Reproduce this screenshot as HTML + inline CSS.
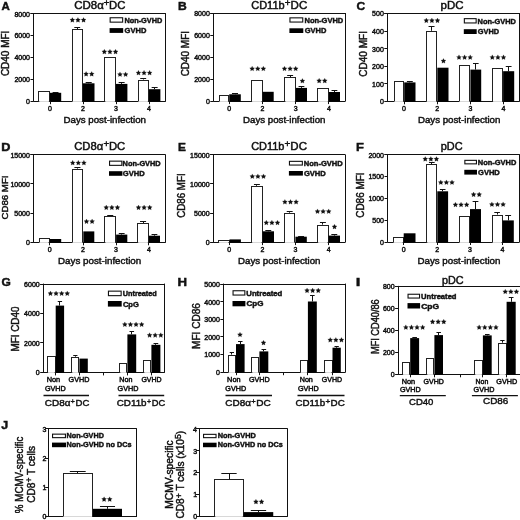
<!DOCTYPE html>
<html><head><meta charset="utf-8"><title>Figure</title>
<style>
html,body{margin:0;padding:0;background:#fff;}
body{width:520px;height:520px;overflow:hidden;}
svg{display:block;will-change:transform;}
text{font-family:"Liberation Sans", sans-serif;fill:#111;stroke:#111;stroke-width:0.45px;}
</style></head>
<body>
<svg width="520" height="520" viewBox="0 0 520 520">
<rect x="0" y="0" width="520" height="520" fill="#fff"/>
<line x1="33.5" y1="13.1" x2="33.5" y2="101.7" stroke="#111" stroke-width="1"/>
<line x1="30.5" y1="13.5" x2="165.6" y2="13.5" stroke="#111" stroke-width="1"/>
<line x1="165.5" y1="13.1" x2="165.5" y2="101.7" stroke="#111" stroke-width="1"/>
<line x1="33.5" y1="101.5" x2="165.6" y2="101.5" stroke="#111" stroke-width="1"/>
<line x1="30.5" y1="101.5" x2="33.5" y2="101.5" stroke="#111" stroke-width="1"/>
<text x="26.09" y="104.1" font-size="7">0</text>
<line x1="30.5" y1="79.5" x2="33.5" y2="79.5" stroke="#111" stroke-width="1"/>
<text x="14.4" y="82.2" font-size="7">2000</text>
<line x1="30.5" y1="57.5" x2="33.5" y2="57.5" stroke="#111" stroke-width="1"/>
<text x="14.4" y="60.3" font-size="7">4000</text>
<line x1="30.5" y1="35.5" x2="33.5" y2="35.5" stroke="#111" stroke-width="1"/>
<text x="14.4" y="38.4" font-size="7">6000</text>
<line x1="30.5" y1="13.5" x2="33.5" y2="13.5" stroke="#111" stroke-width="1"/>
<text x="14.4" y="16.5" font-size="7">8000</text>
<rect x="38.5" y="91.5" width="11" height="10" fill="#fff" stroke="#222" stroke-width="1"/>
<line x1="39.3" y1="101.5" x2="48.9" y2="101.5" stroke="#d8d8d8" stroke-width="1"/>
<rect x="49.9" y="92.8" width="11.3" height="8.9" fill="#000"/>
<line x1="55.5" y1="92" x2="55.5" y2="92.8" stroke="#111" stroke-width="1"/>
<line x1="52.61" y1="92.5" x2="58.49" y2="92.5" stroke="#111" stroke-width="1"/>
<rect x="72.5" y="29.5" width="10" height="72" fill="#fff" stroke="#222" stroke-width="1"/>
<line x1="72.6" y1="101.5" x2="81.9" y2="101.5" stroke="#d8d8d8" stroke-width="1"/>
<line x1="77.5" y1="27.4" x2="77.5" y2="29.1" stroke="#111" stroke-width="1"/>
<line x1="74.31" y1="27.5" x2="80.19" y2="27.5" stroke="#111" stroke-width="1"/>
<rect x="82.9" y="83.3" width="11.6" height="18.4" fill="#000"/>
<line x1="88.5" y1="82.2" x2="88.5" y2="83.3" stroke="#111" stroke-width="1"/>
<line x1="85.68" y1="82.5" x2="91.72" y2="82.5" stroke="#111" stroke-width="1"/>
<rect x="104.5" y="57.5" width="11" height="44" fill="#fff" stroke="#222" stroke-width="1"/>
<line x1="105.3" y1="101.5" x2="114.9" y2="101.5" stroke="#d8d8d8" stroke-width="1"/>
<rect x="115.9" y="83.9" width="11.5" height="17.8" fill="#000"/>
<line x1="121.5" y1="82" x2="121.5" y2="83.9" stroke="#111" stroke-width="1"/>
<line x1="118.66" y1="82.5" x2="124.64" y2="82.5" stroke="#111" stroke-width="1"/>
<rect x="138.5" y="80.5" width="10" height="21" fill="#fff" stroke="#222" stroke-width="1"/>
<line x1="138.5" y1="101.5" x2="147.9" y2="101.5" stroke="#d8d8d8" stroke-width="1"/>
<line x1="143.5" y1="78.8" x2="143.5" y2="79.5" stroke="#111" stroke-width="1"/>
<line x1="140.24" y1="78.5" x2="146.16" y2="78.5" stroke="#111" stroke-width="1"/>
<rect x="148.9" y="89.2" width="11.5" height="12.5" fill="#000"/>
<line x1="154.5" y1="87.2" x2="154.5" y2="89.2" stroke="#111" stroke-width="1"/>
<line x1="151.66" y1="87.5" x2="157.64" y2="87.5" stroke="#111" stroke-width="1"/>
<polygon points="72.35,17.55 73.11,19.1 74.82,19.34 73.59,20.55 73.88,22.25 72.35,21.45 70.82,22.25 71.11,20.55 69.88,19.34 71.59,19.1" fill="#111" stroke="#111" stroke-width="0.2" stroke-linejoin="round"/>
<polygon points="77.95,17.55 78.71,19.1 80.42,19.34 79.19,20.55 79.48,22.25 77.95,21.45 76.42,22.25 76.71,20.55 75.48,19.34 77.19,19.1" fill="#111" stroke="#111" stroke-width="0.2" stroke-linejoin="round"/>
<polygon points="83.55,17.55 84.31,19.1 86.02,19.34 84.79,20.55 85.08,22.25 83.55,21.45 82.02,22.25 82.31,20.55 81.08,19.34 82.79,19.1" fill="#111" stroke="#111" stroke-width="0.2" stroke-linejoin="round"/>
<polygon points="86.1,71.5 86.86,73.05 88.57,73.29 87.34,74.5 87.63,76.2 86.1,75.4 84.57,76.2 84.86,74.5 83.63,73.29 85.34,73.05" fill="#111" stroke="#111" stroke-width="0.2" stroke-linejoin="round"/>
<polygon points="91.7,71.5 92.46,73.05 94.17,73.29 92.94,74.5 93.23,76.2 91.7,75.4 90.17,76.2 90.46,74.5 89.23,73.29 90.94,73.05" fill="#111" stroke="#111" stroke-width="0.2" stroke-linejoin="round"/>
<polygon points="104.35,49.3 105.11,50.85 106.82,51.09 105.59,52.3 105.88,54 104.35,53.2 102.82,54 103.11,52.3 101.88,51.09 103.59,50.85" fill="#111" stroke="#111" stroke-width="0.2" stroke-linejoin="round"/>
<polygon points="109.95,49.3 110.71,50.85 112.42,51.09 111.19,52.3 111.48,54 109.95,53.2 108.42,54 108.71,52.3 107.48,51.09 109.19,50.85" fill="#111" stroke="#111" stroke-width="0.2" stroke-linejoin="round"/>
<polygon points="115.55,49.3 116.31,50.85 118.02,51.09 116.79,52.3 117.08,54 115.55,53.2 114.02,54 114.31,52.3 113.08,51.09 114.79,50.85" fill="#111" stroke="#111" stroke-width="0.2" stroke-linejoin="round"/>
<polygon points="120,71.9 120.76,73.45 122.47,73.69 121.24,74.9 121.53,76.6 120,75.8 118.47,76.6 118.76,74.9 117.53,73.69 119.24,73.45" fill="#111" stroke="#111" stroke-width="0.2" stroke-linejoin="round"/>
<polygon points="125.6,71.9 126.36,73.45 128.07,73.69 126.84,74.9 127.13,76.6 125.6,75.8 124.07,76.6 124.36,74.9 123.13,73.69 124.84,73.45" fill="#111" stroke="#111" stroke-width="0.2" stroke-linejoin="round"/>
<polygon points="138.45,70.35 139.21,71.9 140.92,72.14 139.69,73.35 139.98,75.05 138.45,74.25 136.92,75.05 137.21,73.35 135.98,72.14 137.69,71.9" fill="#111" stroke="#111" stroke-width="0.2" stroke-linejoin="round"/>
<polygon points="144.05,70.35 144.81,71.9 146.52,72.14 145.29,73.35 145.58,75.05 144.05,74.25 142.52,75.05 142.81,73.35 141.58,72.14 143.29,71.9" fill="#111" stroke="#111" stroke-width="0.2" stroke-linejoin="round"/>
<polygon points="149.65,70.35 150.41,71.9 152.12,72.14 150.89,73.35 151.18,75.05 149.65,74.25 148.12,75.05 148.41,73.35 147.18,72.14 148.89,71.9" fill="#111" stroke="#111" stroke-width="0.2" stroke-linejoin="round"/>
<line x1="50.5" y1="101.2" x2="50.5" y2="104.2" stroke="#111" stroke-width="1"/>
<text x="48.06" y="111" font-size="7">0</text>
<line x1="83.5" y1="101.2" x2="83.5" y2="104.2" stroke="#111" stroke-width="1"/>
<text x="81.06" y="111" font-size="7">2</text>
<line x1="116.5" y1="101.2" x2="116.5" y2="104.2" stroke="#111" stroke-width="1"/>
<text x="114.08" y="111" font-size="7">3</text>
<line x1="149.5" y1="101.2" x2="149.5" y2="104.2" stroke="#111" stroke-width="1"/>
<text x="147.07" y="111" font-size="7">4</text>
<text x="63.52" y="123" font-size="9.5" textLength="82.5" lengthAdjust="spacingAndGlyphs">Days post-infection</text>
<text x="1.61" y="9.5" font-size="11" font-weight="bold" textLength="8.3" lengthAdjust="spacingAndGlyphs">A</text>
<text x="74.23" y="8.7" font-size="10.3" textLength="29.6" lengthAdjust="spacingAndGlyphs">CD8α</text>
<text x="103.83" y="5.5" font-size="9.27" textLength="5.54" lengthAdjust="spacingAndGlyphs">+</text>
<text x="109" y="8.7" font-size="10.3" textLength="16.3" lengthAdjust="spacingAndGlyphs">DC</text>
<text x="8.6" y="76.1" font-size="10" textLength="45.41" lengthAdjust="spacingAndGlyphs" transform="rotate(-90 8.6 76.1)">CD40 MFI</text>
<rect x="110.15" y="17.75" width="12.5" height="4.4" fill="#fff" stroke="#111" stroke-width="1.1"/>
<text x="124.42" y="22.8" font-size="7.6" font-weight="bold" textLength="37.88" lengthAdjust="spacingAndGlyphs">Non-GVHD</text>
<rect x="109.6" y="28.1" width="13.6" height="4.8" fill="#000"/>
<text x="124.6" y="33" font-size="7.6" font-weight="bold" textLength="21.73" lengthAdjust="spacingAndGlyphs">GVHD</text>
<line x1="213.5" y1="13" x2="213.5" y2="101.6" stroke="#111" stroke-width="1"/>
<line x1="210.3" y1="13.5" x2="345" y2="13.5" stroke="#111" stroke-width="1"/>
<line x1="345.5" y1="13" x2="345.5" y2="101.6" stroke="#111" stroke-width="1"/>
<line x1="213.3" y1="101.5" x2="345" y2="101.5" stroke="#111" stroke-width="1"/>
<line x1="210.3" y1="101.5" x2="213.3" y2="101.5" stroke="#111" stroke-width="1"/>
<text x="205.9" y="104" font-size="7">0</text>
<line x1="210.3" y1="79.5" x2="213.3" y2="79.5" stroke="#111" stroke-width="1"/>
<text x="194.21" y="82.1" font-size="7">2000</text>
<line x1="210.3" y1="57.5" x2="213.3" y2="57.5" stroke="#111" stroke-width="1"/>
<text x="194.21" y="60.2" font-size="7">4000</text>
<line x1="210.3" y1="35.5" x2="213.3" y2="35.5" stroke="#111" stroke-width="1"/>
<text x="194.21" y="38.3" font-size="7">6000</text>
<line x1="210.3" y1="13.5" x2="213.3" y2="13.5" stroke="#111" stroke-width="1"/>
<text x="194.21" y="16.4" font-size="7">8000</text>
<rect x="219.5" y="95.5" width="9" height="6" fill="#fff" stroke="#222" stroke-width="1"/>
<line x1="219.5" y1="101.5" x2="228.2" y2="101.5" stroke="#d8d8d8" stroke-width="1"/>
<rect x="229.2" y="94.3" width="11.6" height="7.3" fill="#000"/>
<line x1="235.5" y1="93.3" x2="235.5" y2="94.3" stroke="#111" stroke-width="1"/>
<line x1="231.98" y1="93.5" x2="238.02" y2="93.5" stroke="#111" stroke-width="1"/>
<rect x="251.5" y="80.5" width="11" height="21" fill="#fff" stroke="#222" stroke-width="1"/>
<line x1="252.1" y1="101.5" x2="261.6" y2="101.5" stroke="#d8d8d8" stroke-width="1"/>
<rect x="262.6" y="91.8" width="11.1" height="9.8" fill="#000"/>
<rect x="284.5" y="77.5" width="11" height="24" fill="#fff" stroke="#222" stroke-width="1"/>
<line x1="285.4" y1="101.5" x2="294.9" y2="101.5" stroke="#d8d8d8" stroke-width="1"/>
<line x1="290.5" y1="75.6" x2="290.5" y2="77.2" stroke="#111" stroke-width="1"/>
<line x1="287.16" y1="75.5" x2="293.14" y2="75.5" stroke="#111" stroke-width="1"/>
<rect x="295.9" y="87.9" width="11.1" height="13.7" fill="#000"/>
<line x1="301.5" y1="86.3" x2="301.5" y2="87.9" stroke="#111" stroke-width="1"/>
<line x1="298.56" y1="86.5" x2="304.34" y2="86.5" stroke="#111" stroke-width="1"/>
<rect x="317.5" y="88.5" width="11" height="13" fill="#fff" stroke="#222" stroke-width="1"/>
<line x1="318.3" y1="101.5" x2="327.9" y2="101.5" stroke="#d8d8d8" stroke-width="1"/>
<rect x="328.9" y="92" width="11.1" height="9.6" fill="#000"/>
<line x1="334.5" y1="90.3" x2="334.5" y2="92" stroke="#111" stroke-width="1"/>
<line x1="331.56" y1="90.5" x2="337.34" y2="90.5" stroke="#111" stroke-width="1"/>
<polygon points="252.15,66.15 252.91,67.7 254.62,67.94 253.39,69.15 253.68,70.85 252.15,70.05 250.62,70.85 250.91,69.15 249.68,67.94 251.39,67.7" fill="#111" stroke="#111" stroke-width="0.2" stroke-linejoin="round"/>
<polygon points="257.75,66.15 258.51,67.7 260.22,67.94 258.99,69.15 259.28,70.85 257.75,70.05 256.22,70.85 256.51,69.15 255.28,67.94 256.99,67.7" fill="#111" stroke="#111" stroke-width="0.2" stroke-linejoin="round"/>
<polygon points="263.35,66.15 264.11,67.7 265.82,67.94 264.59,69.15 264.88,70.85 263.35,70.05 261.82,70.85 262.11,69.15 260.88,67.94 262.59,67.7" fill="#111" stroke="#111" stroke-width="0.2" stroke-linejoin="round"/>
<polygon points="284.5,66.15 285.26,67.7 286.97,67.94 285.74,69.15 286.03,70.85 284.5,70.05 282.97,70.85 283.26,69.15 282.03,67.94 283.74,67.7" fill="#111" stroke="#111" stroke-width="0.2" stroke-linejoin="round"/>
<polygon points="290.1,66.15 290.86,67.7 292.57,67.94 291.34,69.15 291.63,70.85 290.1,70.05 288.57,70.85 288.86,69.15 287.63,67.94 289.34,67.7" fill="#111" stroke="#111" stroke-width="0.2" stroke-linejoin="round"/>
<polygon points="295.7,66.15 296.46,67.7 298.17,67.94 296.94,69.15 297.23,70.85 295.7,70.05 294.17,70.85 294.46,69.15 293.23,67.94 294.94,67.7" fill="#111" stroke="#111" stroke-width="0.2" stroke-linejoin="round"/>
<polygon points="302.4,78.4 303.16,79.95 304.87,80.19 303.64,81.4 303.93,83.1 302.4,82.3 300.87,83.1 301.16,81.4 299.93,80.19 301.64,79.95" fill="#111" stroke="#111" stroke-width="0.2" stroke-linejoin="round"/>
<polygon points="319.15,78.3 319.91,79.85 321.62,80.09 320.39,81.3 320.68,83 319.15,82.2 317.62,83 317.91,81.3 316.68,80.09 318.39,79.85" fill="#111" stroke="#111" stroke-width="0.2" stroke-linejoin="round"/>
<polygon points="324.75,78.3 325.51,79.85 327.22,80.09 325.99,81.3 326.28,83 324.75,82.2 323.22,83 323.51,81.3 322.28,80.09 323.99,79.85" fill="#111" stroke="#111" stroke-width="0.2" stroke-linejoin="round"/>
<line x1="229.5" y1="101.1" x2="229.5" y2="104.1" stroke="#111" stroke-width="1"/>
<text x="227.26" y="110.9" font-size="7">0</text>
<line x1="262.5" y1="101.1" x2="262.5" y2="104.1" stroke="#111" stroke-width="1"/>
<text x="260.46" y="110.9" font-size="7">2</text>
<line x1="295.5" y1="101.1" x2="295.5" y2="104.1" stroke="#111" stroke-width="1"/>
<text x="293.68" y="110.9" font-size="7">3</text>
<line x1="328.5" y1="101.1" x2="328.5" y2="104.1" stroke="#111" stroke-width="1"/>
<text x="326.88" y="110.9" font-size="7">4</text>
<text x="243.02" y="122.7" font-size="9.5" textLength="82.4" lengthAdjust="spacingAndGlyphs">Days post-infection</text>
<text x="178.01" y="9.6" font-size="11" font-weight="bold" textLength="8.76" lengthAdjust="spacingAndGlyphs">B</text>
<text x="251.25" y="8.9" font-size="10.3" textLength="33.37" lengthAdjust="spacingAndGlyphs">CD11b</text>
<text x="284.71" y="5.7" font-size="9.27" textLength="5.78" lengthAdjust="spacingAndGlyphs">+</text>
<text x="290.58" y="8.9" font-size="10.3" textLength="16.63" lengthAdjust="spacingAndGlyphs">DC</text>
<text x="189.4" y="76.3" font-size="10" textLength="45.3" lengthAdjust="spacingAndGlyphs" transform="rotate(-90 189.4 76.3)">CD40 MFI</text>
<rect x="289.95" y="17.85" width="12.8" height="4.2" fill="#fff" stroke="#111" stroke-width="1.1"/>
<text x="304.51" y="22.7" font-size="7.6" font-weight="bold" textLength="38.8" lengthAdjust="spacingAndGlyphs">Non-GVHD</text>
<rect x="289.4" y="28.3" width="13.9" height="4.7" fill="#000"/>
<text x="304.7" y="33.1" font-size="7.6" font-weight="bold" textLength="21.63" lengthAdjust="spacingAndGlyphs">GVHD</text>
<line x1="387.5" y1="13" x2="387.5" y2="101.8" stroke="#111" stroke-width="1"/>
<line x1="384.3" y1="13.5" x2="519.2" y2="13.5" stroke="#111" stroke-width="1"/>
<line x1="519.5" y1="13" x2="519.5" y2="101.8" stroke="#111" stroke-width="1"/>
<line x1="387.3" y1="101.5" x2="519.2" y2="101.5" stroke="#111" stroke-width="1"/>
<line x1="384.3" y1="101.5" x2="387.3" y2="101.5" stroke="#111" stroke-width="1"/>
<text x="379.89" y="104.2" font-size="7">0</text>
<line x1="384.3" y1="83.5" x2="387.3" y2="83.5" stroke="#111" stroke-width="1"/>
<text x="372.12" y="86.64" font-size="7">100</text>
<line x1="384.3" y1="66.5" x2="387.3" y2="66.5" stroke="#111" stroke-width="1"/>
<text x="372.12" y="69.08" font-size="7">200</text>
<line x1="384.3" y1="48.5" x2="387.3" y2="48.5" stroke="#111" stroke-width="1"/>
<text x="372.12" y="51.52" font-size="7">300</text>
<line x1="384.3" y1="31.5" x2="387.3" y2="31.5" stroke="#111" stroke-width="1"/>
<text x="372.12" y="33.96" font-size="7">400</text>
<line x1="384.3" y1="13.5" x2="387.3" y2="13.5" stroke="#111" stroke-width="1"/>
<text x="372.12" y="16.4" font-size="7">500</text>
<rect x="394.5" y="81.5" width="9" height="20" fill="#fff" stroke="#222" stroke-width="1"/>
<line x1="394.5" y1="101.5" x2="403.2" y2="101.5" stroke="#d8d8d8" stroke-width="1"/>
<rect x="404.2" y="82.4" width="11.3" height="19.4" fill="#000"/>
<line x1="409.5" y1="81.5" x2="409.5" y2="82.4" stroke="#111" stroke-width="1"/>
<line x1="406.91" y1="81.5" x2="412.79" y2="81.5" stroke="#111" stroke-width="1"/>
<rect x="426.5" y="31.5" width="10" height="70" fill="#fff" stroke="#222" stroke-width="1"/>
<line x1="426.8" y1="101.5" x2="436.3" y2="101.5" stroke="#d8d8d8" stroke-width="1"/>
<line x1="431.5" y1="26.9" x2="431.5" y2="30.8" stroke="#111" stroke-width="1"/>
<line x1="428.56" y1="26.5" x2="434.54" y2="26.5" stroke="#111" stroke-width="1"/>
<rect x="437.3" y="67.7" width="11.2" height="34.1" fill="#000"/>
<rect x="459.5" y="65.5" width="10" height="36" fill="#fff" stroke="#222" stroke-width="1"/>
<line x1="459.5" y1="101.5" x2="469.4" y2="101.5" stroke="#d8d8d8" stroke-width="1"/>
<rect x="470.4" y="69.6" width="10.8" height="32.2" fill="#000"/>
<line x1="475.5" y1="63.5" x2="475.5" y2="69.6" stroke="#111" stroke-width="1"/>
<line x1="472.99" y1="63.5" x2="478.61" y2="63.5" stroke="#111" stroke-width="1"/>
<rect x="492.5" y="68.5" width="10" height="33" fill="#fff" stroke="#222" stroke-width="1"/>
<line x1="493.1" y1="101.5" x2="502.1" y2="101.5" stroke="#d8d8d8" stroke-width="1"/>
<rect x="503.1" y="71.2" width="11.1" height="30.6" fill="#000"/>
<line x1="508.5" y1="66.7" x2="508.5" y2="71.2" stroke="#111" stroke-width="1"/>
<line x1="505.76" y1="66.5" x2="511.54" y2="66.5" stroke="#111" stroke-width="1"/>
<polygon points="426.3,18.05 427.06,19.6 428.77,19.84 427.54,21.05 427.83,22.75 426.3,21.95 424.77,22.75 425.06,21.05 423.83,19.84 425.54,19.6" fill="#111" stroke="#111" stroke-width="0.2" stroke-linejoin="round"/>
<polygon points="431.9,18.05 432.66,19.6 434.37,19.84 433.14,21.05 433.43,22.75 431.9,21.95 430.37,22.75 430.66,21.05 429.43,19.84 431.14,19.6" fill="#111" stroke="#111" stroke-width="0.2" stroke-linejoin="round"/>
<polygon points="437.5,18.05 438.26,19.6 439.97,19.84 438.74,21.05 439.03,22.75 437.5,21.95 435.97,22.75 436.26,21.05 435.03,19.84 436.74,19.6" fill="#111" stroke="#111" stroke-width="0.2" stroke-linejoin="round"/>
<polygon points="443.45,58.45 444.21,60 445.92,60.24 444.69,61.45 444.98,63.15 443.45,62.35 441.92,63.15 442.21,61.45 440.98,60.24 442.69,60" fill="#111" stroke="#111" stroke-width="0.2" stroke-linejoin="round"/>
<polygon points="459,54.85 459.76,56.4 461.47,56.64 460.24,57.85 460.53,59.55 459,58.75 457.47,59.55 457.76,57.85 456.53,56.64 458.24,56.4" fill="#111" stroke="#111" stroke-width="0.2" stroke-linejoin="round"/>
<polygon points="464.6,54.85 465.36,56.4 467.07,56.64 465.84,57.85 466.13,59.55 464.6,58.75 463.07,59.55 463.36,57.85 462.13,56.64 463.84,56.4" fill="#111" stroke="#111" stroke-width="0.2" stroke-linejoin="round"/>
<polygon points="470.2,54.85 470.96,56.4 472.67,56.64 471.44,57.85 471.73,59.55 470.2,58.75 468.67,59.55 468.96,57.85 467.73,56.64 469.44,56.4" fill="#111" stroke="#111" stroke-width="0.2" stroke-linejoin="round"/>
<polygon points="492.3,54.85 493.06,56.4 494.77,56.64 493.54,57.85 493.83,59.55 492.3,58.75 490.77,59.55 491.06,57.85 489.83,56.64 491.54,56.4" fill="#111" stroke="#111" stroke-width="0.2" stroke-linejoin="round"/>
<polygon points="497.9,54.85 498.66,56.4 500.37,56.64 499.14,57.85 499.43,59.55 497.9,58.75 496.37,59.55 496.66,57.85 495.43,56.64 497.14,56.4" fill="#111" stroke="#111" stroke-width="0.2" stroke-linejoin="round"/>
<polygon points="503.5,54.85 504.26,56.4 505.97,56.64 504.74,57.85 505.03,59.55 503.5,58.75 501.97,59.55 502.26,57.85 501.03,56.64 502.74,56.4" fill="#111" stroke="#111" stroke-width="0.2" stroke-linejoin="round"/>
<line x1="404.5" y1="101.3" x2="404.5" y2="104.3" stroke="#111" stroke-width="1"/>
<text x="402.06" y="111.1" font-size="7">0</text>
<line x1="437.5" y1="101.3" x2="437.5" y2="104.3" stroke="#111" stroke-width="1"/>
<text x="435.36" y="111.1" font-size="7">2</text>
<line x1="470.5" y1="101.3" x2="470.5" y2="104.3" stroke="#111" stroke-width="1"/>
<text x="468.47" y="111.1" font-size="7">3</text>
<line x1="503.5" y1="101.3" x2="503.5" y2="104.3" stroke="#111" stroke-width="1"/>
<text x="501.38" y="111.1" font-size="7">4</text>
<text x="417.92" y="122.7" font-size="9.5" textLength="82.5" lengthAdjust="spacingAndGlyphs">Days post-infection</text>
<text x="356.42" y="9.6" font-size="11" font-weight="bold" textLength="8.71" lengthAdjust="spacingAndGlyphs">C</text>
<text x="440.56" y="8.9" font-size="10.3" textLength="22.91" lengthAdjust="spacingAndGlyphs">pDC</text>
<text x="366.9" y="76.7" font-size="10" textLength="45.72" lengthAdjust="spacingAndGlyphs" transform="rotate(-90 366.9 76.7)">CD40 MFI</text>
<rect x="464.35" y="18.65" width="11.8" height="4.3" fill="#fff" stroke="#111" stroke-width="1.1"/>
<text x="477.62" y="23.6" font-size="7.6" font-weight="bold" textLength="38.29" lengthAdjust="spacingAndGlyphs">Non-GVHD</text>
<rect x="463.8" y="29.2" width="12.9" height="4.8" fill="#000"/>
<text x="477.8" y="34.1" font-size="7.6" font-weight="bold" textLength="21.32" lengthAdjust="spacingAndGlyphs">GVHD</text>
<line x1="33.5" y1="154.3" x2="33.5" y2="242.8" stroke="#111" stroke-width="1"/>
<line x1="30.4" y1="154.5" x2="165.3" y2="154.5" stroke="#111" stroke-width="1"/>
<line x1="165.5" y1="154.3" x2="165.5" y2="242.8" stroke="#111" stroke-width="1"/>
<line x1="33.4" y1="242.5" x2="165.3" y2="242.5" stroke="#111" stroke-width="1"/>
<line x1="30.4" y1="242.5" x2="33.4" y2="242.5" stroke="#111" stroke-width="1"/>
<text x="25.99" y="245.2" font-size="7">0</text>
<line x1="30.4" y1="213.5" x2="33.4" y2="213.5" stroke="#111" stroke-width="1"/>
<text x="14.3" y="216.03" font-size="7">5000</text>
<line x1="30.4" y1="183.5" x2="33.4" y2="183.5" stroke="#111" stroke-width="1"/>
<text x="10.42" y="186.87" font-size="7">10000</text>
<line x1="30.4" y1="154.5" x2="33.4" y2="154.5" stroke="#111" stroke-width="1"/>
<text x="10.42" y="157.7" font-size="7">15000</text>
<rect x="39.5" y="238.5" width="10" height="4" fill="#fff" stroke="#222" stroke-width="1"/>
<line x1="39.5" y1="242.5" x2="48.6" y2="242.5" stroke="#d8d8d8" stroke-width="1"/>
<rect x="49.6" y="239" width="11.6" height="3.8" fill="#000"/>
<rect x="72.5" y="169.5" width="10" height="73" fill="#fff" stroke="#222" stroke-width="1"/>
<line x1="72.6" y1="242.5" x2="82.3" y2="242.5" stroke="#d8d8d8" stroke-width="1"/>
<line x1="77.5" y1="167.6" x2="77.5" y2="168.6" stroke="#111" stroke-width="1"/>
<line x1="74.41" y1="167.5" x2="80.49" y2="167.5" stroke="#111" stroke-width="1"/>
<rect x="83.3" y="231.4" width="11" height="11.4" fill="#000"/>
<rect x="104.5" y="216.5" width="11" height="26" fill="#fff" stroke="#222" stroke-width="1"/>
<line x1="105.4" y1="242.5" x2="115.1" y2="242.5" stroke="#d8d8d8" stroke-width="1"/>
<line x1="110.5" y1="215" x2="110.5" y2="216" stroke="#111" stroke-width="1"/>
<line x1="107.21" y1="215.5" x2="113.29" y2="215.5" stroke="#111" stroke-width="1"/>
<rect x="116.1" y="234.6" width="11.2" height="8.2" fill="#000"/>
<line x1="121.5" y1="233.1" x2="121.5" y2="234.6" stroke="#111" stroke-width="1"/>
<line x1="118.79" y1="233.5" x2="124.61" y2="233.5" stroke="#111" stroke-width="1"/>
<rect x="137.5" y="223.5" width="11" height="19" fill="#fff" stroke="#222" stroke-width="1"/>
<line x1="138.2" y1="242.5" x2="147.9" y2="242.5" stroke="#d8d8d8" stroke-width="1"/>
<line x1="143.5" y1="221.5" x2="143.5" y2="223" stroke="#111" stroke-width="1"/>
<line x1="140.01" y1="221.5" x2="146.09" y2="221.5" stroke="#111" stroke-width="1"/>
<rect x="148.9" y="235.7" width="11.1" height="7.1" fill="#000"/>
<line x1="154.5" y1="234" x2="154.5" y2="235.7" stroke="#111" stroke-width="1"/>
<line x1="151.56" y1="234.5" x2="157.34" y2="234.5" stroke="#111" stroke-width="1"/>
<polygon points="72.7,160.35 73.46,161.9 75.17,162.14 73.94,163.35 74.23,165.05 72.7,164.25 71.17,165.05 71.46,163.35 70.23,162.14 71.94,161.9" fill="#111" stroke="#111" stroke-width="0.2" stroke-linejoin="round"/>
<polygon points="78.3,160.35 79.06,161.9 80.77,162.14 79.54,163.35 79.83,165.05 78.3,164.25 76.77,165.05 77.06,163.35 75.83,162.14 77.54,161.9" fill="#111" stroke="#111" stroke-width="0.2" stroke-linejoin="round"/>
<polygon points="83.9,160.35 84.66,161.9 86.37,162.14 85.14,163.35 85.43,165.05 83.9,164.25 82.37,165.05 82.66,163.35 81.43,162.14 83.14,161.9" fill="#111" stroke="#111" stroke-width="0.2" stroke-linejoin="round"/>
<polygon points="86.5,218.95 87.26,220.5 88.97,220.74 87.74,221.95 88.03,223.65 86.5,222.85 84.97,223.65 85.26,221.95 84.03,220.74 85.74,220.5" fill="#111" stroke="#111" stroke-width="0.2" stroke-linejoin="round"/>
<polygon points="92.1,218.95 92.86,220.5 94.57,220.74 93.34,221.95 93.63,223.65 92.1,222.85 90.57,223.65 90.86,221.95 89.63,220.74 91.34,220.5" fill="#111" stroke="#111" stroke-width="0.2" stroke-linejoin="round"/>
<polygon points="106.25,205.05 107.01,206.6 108.72,206.84 107.49,208.05 107.78,209.75 106.25,208.95 104.72,209.75 105.01,208.05 103.78,206.84 105.49,206.6" fill="#111" stroke="#111" stroke-width="0.2" stroke-linejoin="round"/>
<polygon points="111.85,205.05 112.61,206.6 114.32,206.84 113.09,208.05 113.38,209.75 111.85,208.95 110.32,209.75 110.61,208.05 109.38,206.84 111.09,206.6" fill="#111" stroke="#111" stroke-width="0.2" stroke-linejoin="round"/>
<polygon points="117.45,205.05 118.21,206.6 119.92,206.84 118.69,208.05 118.98,209.75 117.45,208.95 115.92,209.75 116.21,208.05 114.98,206.84 116.69,206.6" fill="#111" stroke="#111" stroke-width="0.2" stroke-linejoin="round"/>
<polygon points="138.5,205.05 139.26,206.6 140.97,206.84 139.74,208.05 140.03,209.75 138.5,208.95 136.97,209.75 137.26,208.05 136.03,206.84 137.74,206.6" fill="#111" stroke="#111" stroke-width="0.2" stroke-linejoin="round"/>
<polygon points="144.1,205.05 144.86,206.6 146.57,206.84 145.34,208.05 145.63,209.75 144.1,208.95 142.57,209.75 142.86,208.05 141.63,206.84 143.34,206.6" fill="#111" stroke="#111" stroke-width="0.2" stroke-linejoin="round"/>
<polygon points="149.7,205.05 150.46,206.6 152.17,206.84 150.94,208.05 151.23,209.75 149.7,208.95 148.17,209.75 148.46,208.05 147.23,206.84 148.94,206.6" fill="#111" stroke="#111" stroke-width="0.2" stroke-linejoin="round"/>
<line x1="49.5" y1="242.3" x2="49.5" y2="245.3" stroke="#111" stroke-width="1"/>
<text x="47.66" y="252.1" font-size="7">0</text>
<line x1="83.5" y1="242.3" x2="83.5" y2="245.3" stroke="#111" stroke-width="1"/>
<text x="81.06" y="252.1" font-size="7">2</text>
<line x1="116.5" y1="242.3" x2="116.5" y2="245.3" stroke="#111" stroke-width="1"/>
<text x="114.08" y="252.1" font-size="7">3</text>
<line x1="148.5" y1="242.3" x2="148.5" y2="245.3" stroke="#111" stroke-width="1"/>
<text x="146.88" y="252.1" font-size="7">4</text>
<text x="58.02" y="264.4" font-size="9.5" textLength="83.21" lengthAdjust="spacingAndGlyphs">Days post-infection</text>
<text x="1.38" y="150.8" font-size="11" font-weight="bold" textLength="9.16" lengthAdjust="spacingAndGlyphs">D</text>
<text x="74.24" y="149.8" font-size="10.3" textLength="28.98" lengthAdjust="spacingAndGlyphs">CD8α</text>
<text x="103.52" y="146.6" font-size="9.27" textLength="5.66" lengthAdjust="spacingAndGlyphs">+</text>
<text x="108.9" y="149.8" font-size="10.3" textLength="16.3" lengthAdjust="spacingAndGlyphs">DC</text>
<text x="7.6" y="219.48" font-size="9.6" textLength="43.96" lengthAdjust="spacingAndGlyphs" transform="rotate(-90 7.6 219.48)">CD86 MFI</text>
<rect x="109.55" y="161.15" width="12.3" height="4.2" fill="#fff" stroke="#111" stroke-width="1.1"/>
<text x="122.62" y="166" font-size="7.6" font-weight="bold" textLength="38.08" lengthAdjust="spacingAndGlyphs">Non-GVHD</text>
<rect x="109" y="171.2" width="13.4" height="4.6" fill="#000"/>
<text x="122.8" y="175.9" font-size="7.6" font-weight="bold" textLength="21.84" lengthAdjust="spacingAndGlyphs">GVHD</text>
<line x1="213.5" y1="154.4" x2="213.5" y2="242.6" stroke="#111" stroke-width="1"/>
<line x1="210.1" y1="154.5" x2="345" y2="154.5" stroke="#111" stroke-width="1"/>
<line x1="345.5" y1="154.4" x2="345.5" y2="242.6" stroke="#111" stroke-width="1"/>
<line x1="213.1" y1="242.5" x2="345" y2="242.5" stroke="#111" stroke-width="1"/>
<line x1="210.1" y1="242.5" x2="213.1" y2="242.5" stroke="#111" stroke-width="1"/>
<text x="205.69" y="245" font-size="7">0</text>
<line x1="210.1" y1="213.5" x2="213.1" y2="213.5" stroke="#111" stroke-width="1"/>
<text x="194" y="215.93" font-size="7">5000</text>
<line x1="210.1" y1="183.5" x2="213.1" y2="183.5" stroke="#111" stroke-width="1"/>
<text x="190.12" y="186.87" font-size="7">10000</text>
<line x1="210.1" y1="154.5" x2="213.1" y2="154.5" stroke="#111" stroke-width="1"/>
<text x="190.12" y="157.8" font-size="7">15000</text>
<rect x="218.5" y="240.5" width="11" height="2" fill="#fff" stroke="#222" stroke-width="1"/>
<line x1="219.1" y1="242.5" x2="228.5" y2="242.5" stroke="#d8d8d8" stroke-width="1"/>
<rect x="229.5" y="239.4" width="11.4" height="3.2" fill="#000"/>
<rect x="251.5" y="186.5" width="11" height="56" fill="#fff" stroke="#222" stroke-width="1"/>
<line x1="252.2" y1="242.5" x2="261.6" y2="242.5" stroke="#d8d8d8" stroke-width="1"/>
<line x1="256.5" y1="184.2" x2="256.5" y2="185.8" stroke="#111" stroke-width="1"/>
<line x1="253.94" y1="184.5" x2="259.86" y2="184.5" stroke="#111" stroke-width="1"/>
<rect x="262.6" y="231.3" width="11.4" height="11.3" fill="#000"/>
<line x1="268.5" y1="230.5" x2="268.5" y2="231.3" stroke="#111" stroke-width="1"/>
<line x1="265.34" y1="230.5" x2="271.26" y2="230.5" stroke="#111" stroke-width="1"/>
<rect x="284.5" y="213.5" width="10" height="29" fill="#fff" stroke="#222" stroke-width="1"/>
<line x1="285" y1="242.5" x2="294.4" y2="242.5" stroke="#d8d8d8" stroke-width="1"/>
<line x1="289.5" y1="211.5" x2="289.5" y2="212.7" stroke="#111" stroke-width="1"/>
<line x1="286.74" y1="211.5" x2="292.66" y2="211.5" stroke="#111" stroke-width="1"/>
<rect x="295.4" y="236.7" width="11.4" height="5.9" fill="#000"/>
<line x1="301.5" y1="236" x2="301.5" y2="236.7" stroke="#111" stroke-width="1"/>
<line x1="298.14" y1="236.5" x2="304.06" y2="236.5" stroke="#111" stroke-width="1"/>
<rect x="317.5" y="225.5" width="11" height="17" fill="#fff" stroke="#222" stroke-width="1"/>
<line x1="318.2" y1="242.5" x2="327.6" y2="242.5" stroke="#d8d8d8" stroke-width="1"/>
<line x1="322.5" y1="222.7" x2="322.5" y2="224.6" stroke="#111" stroke-width="1"/>
<line x1="319.94" y1="222.5" x2="325.86" y2="222.5" stroke="#111" stroke-width="1"/>
<rect x="328.6" y="235.6" width="11.4" height="7" fill="#000"/>
<line x1="334.5" y1="234.3" x2="334.5" y2="235.6" stroke="#111" stroke-width="1"/>
<line x1="331.34" y1="234.5" x2="337.26" y2="234.5" stroke="#111" stroke-width="1"/>
<polygon points="252.3,173.9 253.06,175.45 254.77,175.69 253.54,176.9 253.83,178.6 252.3,177.8 250.77,178.6 251.06,176.9 249.83,175.69 251.54,175.45" fill="#111" stroke="#111" stroke-width="0.2" stroke-linejoin="round"/>
<polygon points="257.9,173.9 258.66,175.45 260.37,175.69 259.14,176.9 259.43,178.6 257.9,177.8 256.37,178.6 256.66,176.9 255.43,175.69 257.14,175.45" fill="#111" stroke="#111" stroke-width="0.2" stroke-linejoin="round"/>
<polygon points="263.5,173.9 264.26,175.45 265.97,175.69 264.74,176.9 265.03,178.6 263.5,177.8 261.97,178.6 262.26,176.9 261.03,175.69 262.74,175.45" fill="#111" stroke="#111" stroke-width="0.2" stroke-linejoin="round"/>
<polygon points="266.3,220.2 267.06,221.75 268.77,221.99 267.54,223.2 267.83,224.9 266.3,224.1 264.77,224.9 265.06,223.2 263.83,221.99 265.54,221.75" fill="#111" stroke="#111" stroke-width="0.2" stroke-linejoin="round"/>
<polygon points="271.9,220.2 272.66,221.75 274.37,221.99 273.14,223.2 273.43,224.9 271.9,224.1 270.37,224.9 270.66,223.2 269.43,221.99 271.14,221.75" fill="#111" stroke="#111" stroke-width="0.2" stroke-linejoin="round"/>
<polygon points="277.5,220.2 278.26,221.75 279.97,221.99 278.74,223.2 279.03,224.9 277.5,224.1 275.97,224.9 276.26,223.2 275.03,221.99 276.74,221.75" fill="#111" stroke="#111" stroke-width="0.2" stroke-linejoin="round"/>
<polygon points="284.9,199.45 285.66,201 287.37,201.24 286.14,202.45 286.43,204.15 284.9,203.35 283.37,204.15 283.66,202.45 282.43,201.24 284.14,201" fill="#111" stroke="#111" stroke-width="0.2" stroke-linejoin="round"/>
<polygon points="290.5,199.45 291.26,201 292.97,201.24 291.74,202.45 292.03,204.15 290.5,203.35 288.97,204.15 289.26,202.45 288.03,201.24 289.74,201" fill="#111" stroke="#111" stroke-width="0.2" stroke-linejoin="round"/>
<polygon points="296.1,199.45 296.86,201 298.57,201.24 297.34,202.45 297.63,204.15 296.1,203.35 294.57,204.15 294.86,202.45 293.63,201.24 295.34,201" fill="#111" stroke="#111" stroke-width="0.2" stroke-linejoin="round"/>
<polygon points="317.5,208.9 318.26,210.45 319.97,210.69 318.74,211.9 319.03,213.6 317.5,212.8 315.97,213.6 316.26,211.9 315.03,210.69 316.74,210.45" fill="#111" stroke="#111" stroke-width="0.2" stroke-linejoin="round"/>
<polygon points="323.1,208.9 323.86,210.45 325.57,210.69 324.34,211.9 324.63,213.6 323.1,212.8 321.57,213.6 321.86,211.9 320.63,210.69 322.34,210.45" fill="#111" stroke="#111" stroke-width="0.2" stroke-linejoin="round"/>
<polygon points="328.7,208.9 329.46,210.45 331.17,210.69 329.94,211.9 330.23,213.6 328.7,212.8 327.17,213.6 327.46,211.9 326.23,210.69 327.94,210.45" fill="#111" stroke="#111" stroke-width="0.2" stroke-linejoin="round"/>
<polygon points="334.5,224.25 335.26,225.8 336.97,226.04 335.74,227.25 336.03,228.95 334.5,228.15 332.97,228.95 333.26,227.25 332.03,226.04 333.74,225.8" fill="#111" stroke="#111" stroke-width="0.2" stroke-linejoin="round"/>
<line x1="229.5" y1="242.1" x2="229.5" y2="245.1" stroke="#111" stroke-width="1"/>
<text x="227.36" y="251.9" font-size="7">0</text>
<line x1="262.5" y1="242.1" x2="262.5" y2="245.1" stroke="#111" stroke-width="1"/>
<text x="260.56" y="251.9" font-size="7">2</text>
<line x1="295.5" y1="242.1" x2="295.5" y2="245.1" stroke="#111" stroke-width="1"/>
<text x="293.57" y="251.9" font-size="7">3</text>
<line x1="328.5" y1="242.1" x2="328.5" y2="245.1" stroke="#111" stroke-width="1"/>
<text x="326.77" y="251.9" font-size="7">4</text>
<text x="238.02" y="264.4" font-size="9.5" textLength="82.5" lengthAdjust="spacingAndGlyphs">Days post-infection</text>
<text x="178.03" y="150.8" font-size="11" font-weight="bold" textLength="7.91" lengthAdjust="spacingAndGlyphs">E</text>
<text x="251.15" y="150" font-size="10.3" textLength="33.27" lengthAdjust="spacingAndGlyphs">CD11b</text>
<text x="284.51" y="146.8" font-size="9.27" textLength="5.78" lengthAdjust="spacingAndGlyphs">+</text>
<text x="290.38" y="150" font-size="10.3" textLength="16.63" lengthAdjust="spacingAndGlyphs">DC</text>
<text x="185.4" y="217.79" font-size="10" textLength="44.48" lengthAdjust="spacingAndGlyphs" transform="rotate(-90 185.4 217.79)">CD86 MFI</text>
<rect x="289.45" y="161.35" width="12.9" height="3.7" fill="#fff" stroke="#111" stroke-width="1.1"/>
<text x="303.71" y="165.7" font-size="7.6" font-weight="bold" textLength="39" lengthAdjust="spacingAndGlyphs">Non-GVHD</text>
<rect x="288.9" y="171" width="14" height="4.6" fill="#000"/>
<text x="303.9" y="175.7" font-size="7.6" font-weight="bold" textLength="21.94" lengthAdjust="spacingAndGlyphs">GVHD</text>
<line x1="387.5" y1="154.1" x2="387.5" y2="242.5" stroke="#111" stroke-width="1"/>
<line x1="384.5" y1="154.5" x2="519.2" y2="154.5" stroke="#111" stroke-width="1"/>
<line x1="519.5" y1="154.1" x2="519.5" y2="242.5" stroke="#111" stroke-width="1"/>
<line x1="387.5" y1="242.5" x2="519.2" y2="242.5" stroke="#111" stroke-width="1"/>
<line x1="384.5" y1="242.5" x2="387.5" y2="242.5" stroke="#111" stroke-width="1"/>
<text x="380.09" y="244.9" font-size="7">0</text>
<line x1="384.5" y1="220.5" x2="387.5" y2="220.5" stroke="#111" stroke-width="1"/>
<text x="372.32" y="223.05" font-size="7">500</text>
<line x1="384.5" y1="198.5" x2="387.5" y2="198.5" stroke="#111" stroke-width="1"/>
<text x="368.4" y="201.2" font-size="7">1000</text>
<line x1="384.5" y1="176.5" x2="387.5" y2="176.5" stroke="#111" stroke-width="1"/>
<text x="368.4" y="179.35" font-size="7">1500</text>
<line x1="384.5" y1="154.5" x2="387.5" y2="154.5" stroke="#111" stroke-width="1"/>
<text x="368.4" y="157.5" font-size="7">2000</text>
<rect x="393.5" y="237.5" width="10" height="5" fill="#fff" stroke="#222" stroke-width="1"/>
<line x1="393.7" y1="242.5" x2="402.7" y2="242.5" stroke="#d8d8d8" stroke-width="1"/>
<rect x="403.7" y="233.3" width="11.8" height="9.2" fill="#000"/>
<rect x="426.5" y="164.5" width="10" height="78" fill="#fff" stroke="#222" stroke-width="1"/>
<line x1="427.3" y1="242.5" x2="436.3" y2="242.5" stroke="#d8d8d8" stroke-width="1"/>
<line x1="431.5" y1="162.5" x2="431.5" y2="164.4" stroke="#111" stroke-width="1"/>
<line x1="428.94" y1="162.5" x2="434.66" y2="162.5" stroke="#111" stroke-width="1"/>
<rect x="437.3" y="191.3" width="10.8" height="51.2" fill="#000"/>
<line x1="442.5" y1="189.4" x2="442.5" y2="191.3" stroke="#111" stroke-width="1"/>
<line x1="439.89" y1="189.5" x2="445.51" y2="189.5" stroke="#111" stroke-width="1"/>
<rect x="459.5" y="216.5" width="10" height="26" fill="#fff" stroke="#222" stroke-width="1"/>
<line x1="459.6" y1="242.5" x2="469" y2="242.5" stroke="#d8d8d8" stroke-width="1"/>
<rect x="470" y="209.1" width="11" height="33.4" fill="#000"/>
<line x1="475.5" y1="201" x2="475.5" y2="209.1" stroke="#111" stroke-width="1"/>
<line x1="472.64" y1="201.5" x2="478.36" y2="201.5" stroke="#111" stroke-width="1"/>
<rect x="492.5" y="215.5" width="10" height="27" fill="#fff" stroke="#222" stroke-width="1"/>
<line x1="492.7" y1="242.5" x2="501.5" y2="242.5" stroke="#d8d8d8" stroke-width="1"/>
<line x1="497.5" y1="212.3" x2="497.5" y2="214.5" stroke="#111" stroke-width="1"/>
<line x1="494.29" y1="212.5" x2="499.91" y2="212.5" stroke="#111" stroke-width="1"/>
<rect x="502.5" y="220.4" width="11.3" height="22.1" fill="#000"/>
<line x1="508.5" y1="215.5" x2="508.5" y2="220.4" stroke="#111" stroke-width="1"/>
<line x1="505.21" y1="215.5" x2="511.09" y2="215.5" stroke="#111" stroke-width="1"/>
<polygon points="425.25,156.55 426.01,158.1 427.72,158.34 426.49,159.55 426.78,161.25 425.25,160.45 423.72,161.25 424.01,159.55 422.78,158.34 424.49,158.1" fill="#111" stroke="#111" stroke-width="0.2" stroke-linejoin="round"/>
<polygon points="430.85,156.55 431.61,158.1 433.32,158.34 432.09,159.55 432.38,161.25 430.85,160.45 429.32,161.25 429.61,159.55 428.38,158.34 430.09,158.1" fill="#111" stroke="#111" stroke-width="0.2" stroke-linejoin="round"/>
<polygon points="436.45,156.55 437.21,158.1 438.92,158.34 437.69,159.55 437.98,161.25 436.45,160.45 434.92,161.25 435.21,159.55 433.98,158.34 435.69,158.1" fill="#111" stroke="#111" stroke-width="0.2" stroke-linejoin="round"/>
<polygon points="440.8,179.9 441.56,181.45 443.27,181.69 442.04,182.9 442.33,184.6 440.8,183.8 439.27,184.6 439.56,182.9 438.33,181.69 440.04,181.45" fill="#111" stroke="#111" stroke-width="0.2" stroke-linejoin="round"/>
<polygon points="446.4,179.9 447.16,181.45 448.87,181.69 447.64,182.9 447.93,184.6 446.4,183.8 444.87,184.6 445.16,182.9 443.93,181.69 445.64,181.45" fill="#111" stroke="#111" stroke-width="0.2" stroke-linejoin="round"/>
<polygon points="452,179.9 452.76,181.45 454.47,181.69 453.24,182.9 453.53,184.6 452,183.8 450.47,184.6 450.76,182.9 449.53,181.69 451.24,181.45" fill="#111" stroke="#111" stroke-width="0.2" stroke-linejoin="round"/>
<polygon points="455.45,202.2 456.21,203.75 457.92,203.99 456.69,205.2 456.98,206.9 455.45,206.1 453.92,206.9 454.21,205.2 452.98,203.99 454.69,203.75" fill="#111" stroke="#111" stroke-width="0.2" stroke-linejoin="round"/>
<polygon points="461.05,202.2 461.81,203.75 463.52,203.99 462.29,205.2 462.58,206.9 461.05,206.1 459.52,206.9 459.81,205.2 458.58,203.99 460.29,203.75" fill="#111" stroke="#111" stroke-width="0.2" stroke-linejoin="round"/>
<polygon points="466.65,202.2 467.41,203.75 469.12,203.99 467.89,205.2 468.18,206.9 466.65,206.1 465.12,206.9 465.41,205.2 464.18,203.99 465.89,203.75" fill="#111" stroke="#111" stroke-width="0.2" stroke-linejoin="round"/>
<polygon points="473.6,192.05 474.36,193.6 476.07,193.84 474.84,195.05 475.13,196.75 473.6,195.95 472.07,196.75 472.36,195.05 471.13,193.84 472.84,193.6" fill="#111" stroke="#111" stroke-width="0.2" stroke-linejoin="round"/>
<polygon points="479.2,192.05 479.96,193.6 481.67,193.84 480.44,195.05 480.73,196.75 479.2,195.95 477.67,196.75 477.96,195.05 476.73,193.84 478.44,193.6" fill="#111" stroke="#111" stroke-width="0.2" stroke-linejoin="round"/>
<polygon points="491.9,201.9 492.66,203.45 494.37,203.69 493.14,204.9 493.43,206.6 491.9,205.8 490.37,206.6 490.66,204.9 489.43,203.69 491.14,203.45" fill="#111" stroke="#111" stroke-width="0.2" stroke-linejoin="round"/>
<polygon points="497.5,201.9 498.26,203.45 499.97,203.69 498.74,204.9 499.03,206.6 497.5,205.8 495.97,206.6 496.26,204.9 495.03,203.69 496.74,203.45" fill="#111" stroke="#111" stroke-width="0.2" stroke-linejoin="round"/>
<polygon points="503.1,201.9 503.86,203.45 505.57,203.69 504.34,204.9 504.63,206.6 503.1,205.8 501.57,206.6 501.86,204.9 500.63,203.69 502.34,203.45" fill="#111" stroke="#111" stroke-width="0.2" stroke-linejoin="round"/>
<line x1="403.5" y1="242" x2="403.5" y2="245" stroke="#111" stroke-width="1"/>
<text x="401.76" y="251.8" font-size="7">0</text>
<line x1="437.5" y1="242" x2="437.5" y2="245" stroke="#111" stroke-width="1"/>
<text x="435.36" y="251.8" font-size="7">2</text>
<line x1="470.5" y1="242" x2="470.5" y2="245" stroke="#111" stroke-width="1"/>
<text x="468.07" y="251.8" font-size="7">3</text>
<line x1="502.5" y1="242" x2="502.5" y2="245" stroke="#111" stroke-width="1"/>
<text x="500.57" y="251.8" font-size="7">4</text>
<text x="417.42" y="264" font-size="9.5" textLength="83.01" lengthAdjust="spacingAndGlyphs">Days post-infection</text>
<text x="356.06" y="150.8" font-size="11" font-weight="bold" textLength="7.91" lengthAdjust="spacingAndGlyphs">F</text>
<text x="440.79" y="149.6" font-size="10.3" textLength="21.85" lengthAdjust="spacingAndGlyphs">pDC</text>
<text x="363.7" y="217.8" font-size="10" textLength="45.41" lengthAdjust="spacingAndGlyphs" transform="rotate(-90 363.7 217.8)">CD86 MFI</text>
<rect x="464.85" y="160.35" width="11.6" height="3.5" fill="#fff" stroke="#111" stroke-width="1.1"/>
<text x="477.82" y="164.5" font-size="7.6" font-weight="bold" textLength="38.49" lengthAdjust="spacingAndGlyphs">Non-GVHD</text>
<rect x="464.3" y="169.8" width="12.7" height="4.8" fill="#000"/>
<text x="478" y="174.7" font-size="7.6" font-weight="bold" textLength="21.84" lengthAdjust="spacingAndGlyphs">GVHD</text>
<line x1="43.5" y1="283.6" x2="43.5" y2="372.9" stroke="#111" stroke-width="1"/>
<line x1="40.2" y1="284.5" x2="164.2" y2="284.5" stroke="#111" stroke-width="1"/>
<line x1="164.5" y1="283.6" x2="164.5" y2="372.9" stroke="#111" stroke-width="1"/>
<line x1="43.2" y1="372.5" x2="164.2" y2="372.5" stroke="#111" stroke-width="1"/>
<line x1="40.2" y1="372.5" x2="43.2" y2="372.5" stroke="#111" stroke-width="1"/>
<text x="35.8" y="375.3" font-size="7">0</text>
<line x1="40.2" y1="342.5" x2="43.2" y2="342.5" stroke="#111" stroke-width="1"/>
<text x="24.11" y="345.87" font-size="7">2000</text>
<line x1="40.2" y1="313.5" x2="43.2" y2="313.5" stroke="#111" stroke-width="1"/>
<text x="24.11" y="316.43" font-size="7">4000</text>
<line x1="40.2" y1="284.5" x2="43.2" y2="284.5" stroke="#111" stroke-width="1"/>
<text x="24.11" y="287" font-size="7">6000</text>
<rect x="47.5" y="356.5" width="8" height="16" fill="#fff" stroke="#222" stroke-width="1"/>
<line x1="48.1" y1="372.5" x2="54.7" y2="372.5" stroke="#d8d8d8" stroke-width="1"/>
<rect x="55.7" y="305.6" width="8.4" height="67.3" fill="#000"/>
<line x1="59.5" y1="301" x2="59.5" y2="305.6" stroke="#111" stroke-width="1"/>
<line x1="57.72" y1="301.5" x2="62.08" y2="301.5" stroke="#111" stroke-width="1"/>
<rect x="71.5" y="357.5" width="7" height="15" fill="#fff" stroke="#222" stroke-width="1"/>
<line x1="72.3" y1="372.5" x2="78.4" y2="372.5" stroke="#d8d8d8" stroke-width="1"/>
<line x1="75.5" y1="355.4" x2="75.5" y2="356.7" stroke="#111" stroke-width="1"/>
<line x1="73.24" y1="355.5" x2="77.46" y2="355.5" stroke="#111" stroke-width="1"/>
<rect x="79.4" y="358.6" width="8.4" height="14.3" fill="#000"/>
<rect x="119.5" y="363.5" width="7" height="9" fill="#fff" stroke="#222" stroke-width="1"/>
<line x1="120.3" y1="372.5" x2="126.4" y2="372.5" stroke="#d8d8d8" stroke-width="1"/>
<rect x="127.4" y="334.4" width="8.8" height="38.5" fill="#000"/>
<line x1="131.5" y1="331.7" x2="131.5" y2="334.4" stroke="#111" stroke-width="1"/>
<line x1="129.51" y1="331.5" x2="134.09" y2="331.5" stroke="#111" stroke-width="1"/>
<rect x="143.5" y="360.5" width="7" height="12" fill="#fff" stroke="#222" stroke-width="1"/>
<line x1="144.3" y1="372.5" x2="150.4" y2="372.5" stroke="#d8d8d8" stroke-width="1"/>
<rect x="151.4" y="344.8" width="9" height="28.1" fill="#000"/>
<line x1="155.5" y1="343.1" x2="155.5" y2="344.8" stroke="#111" stroke-width="1"/>
<line x1="153.56" y1="343.5" x2="158.24" y2="343.5" stroke="#111" stroke-width="1"/>
<polygon points="50.45,290.95 51.21,292.5 52.92,292.74 51.69,293.95 51.98,295.65 50.45,294.85 48.92,295.65 49.21,293.95 47.98,292.74 49.69,292.5" fill="#111" stroke="#111" stroke-width="0.2" stroke-linejoin="round"/>
<polygon points="56.05,290.95 56.81,292.5 58.52,292.74 57.29,293.95 57.58,295.65 56.05,294.85 54.52,295.65 54.81,293.95 53.58,292.74 55.29,292.5" fill="#111" stroke="#111" stroke-width="0.2" stroke-linejoin="round"/>
<polygon points="61.65,290.95 62.41,292.5 64.12,292.74 62.89,293.95 63.18,295.65 61.65,294.85 60.12,295.65 60.41,293.95 59.18,292.74 60.89,292.5" fill="#111" stroke="#111" stroke-width="0.2" stroke-linejoin="round"/>
<polygon points="67.25,290.95 68.01,292.5 69.72,292.74 68.49,293.95 68.78,295.65 67.25,294.85 65.72,295.65 66.01,293.95 64.78,292.74 66.49,292.5" fill="#111" stroke="#111" stroke-width="0.2" stroke-linejoin="round"/>
<polygon points="124.85,321.95 125.61,323.5 127.32,323.74 126.09,324.95 126.38,326.65 124.85,325.85 123.32,326.65 123.61,324.95 122.38,323.74 124.09,323.5" fill="#111" stroke="#111" stroke-width="0.2" stroke-linejoin="round"/>
<polygon points="130.45,321.95 131.21,323.5 132.92,323.74 131.69,324.95 131.98,326.65 130.45,325.85 128.92,326.65 129.21,324.95 127.98,323.74 129.69,323.5" fill="#111" stroke="#111" stroke-width="0.2" stroke-linejoin="round"/>
<polygon points="136.05,321.95 136.81,323.5 138.52,323.74 137.29,324.95 137.58,326.65 136.05,325.85 134.52,326.65 134.81,324.95 133.58,323.74 135.29,323.5" fill="#111" stroke="#111" stroke-width="0.2" stroke-linejoin="round"/>
<polygon points="141.65,321.95 142.41,323.5 144.12,323.74 142.89,324.95 143.18,326.65 141.65,325.85 140.12,326.65 140.41,324.95 139.18,323.74 140.89,323.5" fill="#111" stroke="#111" stroke-width="0.2" stroke-linejoin="round"/>
<polygon points="149.6,332.7 150.36,334.25 152.07,334.49 150.84,335.7 151.13,337.4 149.6,336.6 148.07,337.4 148.36,335.7 147.13,334.49 148.84,334.25" fill="#111" stroke="#111" stroke-width="0.2" stroke-linejoin="round"/>
<polygon points="155.2,332.7 155.96,334.25 157.67,334.49 156.44,335.7 156.73,337.4 155.2,336.6 153.67,337.4 153.96,335.7 152.73,334.49 154.44,334.25" fill="#111" stroke="#111" stroke-width="0.2" stroke-linejoin="round"/>
<polygon points="160.8,332.7 161.56,334.25 163.27,334.49 162.04,335.7 162.33,337.4 160.8,336.6 159.27,337.4 159.56,335.7 158.33,334.49 160.04,334.25" fill="#111" stroke="#111" stroke-width="0.2" stroke-linejoin="round"/>
<line x1="55.5" y1="372.4" x2="55.5" y2="375.4" stroke="#111" stroke-width="1"/>
<line x1="79.5" y1="372.4" x2="79.5" y2="375.4" stroke="#111" stroke-width="1"/>
<line x1="103.5" y1="372.4" x2="103.5" y2="375.4" stroke="#111" stroke-width="1"/>
<line x1="127.5" y1="372.4" x2="127.5" y2="375.4" stroke="#111" stroke-width="1"/>
<line x1="151.5" y1="372.4" x2="151.5" y2="375.4" stroke="#111" stroke-width="1"/>
<text x="46.71" y="382.4" font-size="6.6" textLength="13.46" lengthAdjust="spacingAndGlyphs">Non</text>
<text x="44.94" y="391" font-size="6.6" textLength="20.81" lengthAdjust="spacingAndGlyphs">GVHD</text>
<text x="68.54" y="382.4" font-size="6.6" textLength="20.81" lengthAdjust="spacingAndGlyphs">GVHD</text>
<text x="119.33" y="382.4" font-size="6.6" textLength="13.13" lengthAdjust="spacingAndGlyphs">Non</text>
<text x="117.54" y="391" font-size="6.6" textLength="20.81" lengthAdjust="spacingAndGlyphs">GVHD</text>
<text x="141.45" y="382.4" font-size="6.6" textLength="20.19" lengthAdjust="spacingAndGlyphs">GVHD</text>
<line x1="43.5" y1="395.5" x2="89" y2="395.5" stroke="#111" stroke-width="1.4"/>
<line x1="118.5" y1="395.5" x2="164.2" y2="395.5" stroke="#111" stroke-width="1.4"/>
<text x="44.8" y="406.4" font-size="8.6" style="stroke-width:0.4px" textLength="25.68" lengthAdjust="spacingAndGlyphs">CD8α</text>
<text x="70.75" y="403.8" font-size="7.74" style="stroke-width:0.4px" textLength="4.09" lengthAdjust="spacingAndGlyphs">+</text>
<text x="75.54" y="406.4" font-size="8.6" style="stroke-width:0.4px" textLength="13.79" lengthAdjust="spacingAndGlyphs">DC</text>
<text x="116.81" y="406.3" font-size="8.6" style="stroke-width:0.4px" textLength="29.77" lengthAdjust="spacingAndGlyphs">CD11b</text>
<text x="147.05" y="403.7" font-size="7.74" style="stroke-width:0.4px" textLength="4.09" lengthAdjust="spacingAndGlyphs">+</text>
<text x="151.85" y="406.3" font-size="8.6" style="stroke-width:0.4px" textLength="13.46" lengthAdjust="spacingAndGlyphs">DC</text>
<text x="1.52" y="285.9" font-size="11" font-weight="bold" textLength="9.33" lengthAdjust="spacingAndGlyphs">G</text>
<text x="19.3" y="351.59" font-size="10.2" textLength="45" lengthAdjust="spacingAndGlyphs" transform="rotate(-90 19.3 351.59)">MFI CD40</text>
<rect x="108.45" y="291.15" width="12.7" height="4.5" fill="#fff" stroke="#111" stroke-width="1.1"/>
<text x="122.76" y="296.3" font-size="7.6" font-weight="bold" textLength="34.03" lengthAdjust="spacingAndGlyphs">Untreated</text>
<rect x="107.9" y="301" width="13.8" height="5.6" fill="#000"/>
<text x="122.9" y="306.7" font-size="7.6" font-weight="bold" textLength="15.96" lengthAdjust="spacingAndGlyphs">CpG</text>
<line x1="223.5" y1="283.6" x2="223.5" y2="372.7" stroke="#111" stroke-width="1"/>
<line x1="220.4" y1="284.5" x2="345" y2="284.5" stroke="#111" stroke-width="1"/>
<line x1="345.5" y1="283.6" x2="345.5" y2="372.7" stroke="#111" stroke-width="1"/>
<line x1="223.4" y1="372.5" x2="345" y2="372.5" stroke="#111" stroke-width="1"/>
<line x1="220.4" y1="372.5" x2="223.4" y2="372.5" stroke="#111" stroke-width="1"/>
<text x="216" y="375.1" font-size="7">0</text>
<line x1="220.4" y1="354.5" x2="223.4" y2="354.5" stroke="#111" stroke-width="1"/>
<text x="204.31" y="357.48" font-size="7">1000</text>
<line x1="220.4" y1="336.5" x2="223.4" y2="336.5" stroke="#111" stroke-width="1"/>
<text x="204.31" y="339.86" font-size="7">2000</text>
<line x1="220.4" y1="319.5" x2="223.4" y2="319.5" stroke="#111" stroke-width="1"/>
<text x="204.31" y="322.24" font-size="7">3000</text>
<line x1="220.4" y1="301.5" x2="223.4" y2="301.5" stroke="#111" stroke-width="1"/>
<text x="204.31" y="304.62" font-size="7">4000</text>
<line x1="220.4" y1="284.5" x2="223.4" y2="284.5" stroke="#111" stroke-width="1"/>
<text x="204.31" y="287" font-size="7">5000</text>
<rect x="228.5" y="355.5" width="7" height="17" fill="#fff" stroke="#222" stroke-width="1"/>
<line x1="228.7" y1="372.5" x2="235" y2="372.5" stroke="#d8d8d8" stroke-width="1"/>
<line x1="231.5" y1="352.2" x2="231.5" y2="354.6" stroke="#111" stroke-width="1"/>
<line x1="229.69" y1="352.5" x2="234.01" y2="352.5" stroke="#111" stroke-width="1"/>
<rect x="236" y="344.1" width="8.6" height="28.6" fill="#000"/>
<line x1="240.5" y1="341.4" x2="240.5" y2="344.1" stroke="#111" stroke-width="1"/>
<line x1="238.06" y1="341.5" x2="242.54" y2="341.5" stroke="#111" stroke-width="1"/>
<rect x="251.5" y="357.5" width="7" height="15" fill="#fff" stroke="#222" stroke-width="1"/>
<line x1="252.3" y1="372.5" x2="258.4" y2="372.5" stroke="#d8d8d8" stroke-width="1"/>
<rect x="259.4" y="351.4" width="8.9" height="21.3" fill="#000"/>
<line x1="263.5" y1="349.5" x2="263.5" y2="351.4" stroke="#111" stroke-width="1"/>
<line x1="261.54" y1="349.5" x2="266.16" y2="349.5" stroke="#111" stroke-width="1"/>
<rect x="300.5" y="360.5" width="7" height="12" fill="#fff" stroke="#222" stroke-width="1"/>
<line x1="300.8" y1="372.5" x2="306.9" y2="372.5" stroke="#d8d8d8" stroke-width="1"/>
<rect x="307.9" y="301.5" width="8.9" height="71.2" fill="#000"/>
<line x1="312.5" y1="295.3" x2="312.5" y2="301.5" stroke="#111" stroke-width="1"/>
<line x1="310.04" y1="295.5" x2="314.66" y2="295.5" stroke="#111" stroke-width="1"/>
<rect x="324.5" y="360.5" width="8" height="12" fill="#fff" stroke="#222" stroke-width="1"/>
<line x1="325.2" y1="372.5" x2="331.5" y2="372.5" stroke="#d8d8d8" stroke-width="1"/>
<rect x="332.5" y="347.7" width="8.3" height="25" fill="#000"/>
<line x1="336.5" y1="346.3" x2="336.5" y2="347.7" stroke="#111" stroke-width="1"/>
<line x1="334.49" y1="346.5" x2="338.81" y2="346.5" stroke="#111" stroke-width="1"/>
<polygon points="240,332.15 240.76,333.7 242.47,333.94 241.24,335.15 241.53,336.85 240,336.05 238.47,336.85 238.76,335.15 237.53,333.94 239.24,333.7" fill="#111" stroke="#111" stroke-width="0.2" stroke-linejoin="round"/>
<polygon points="263.5,340.25 264.26,341.8 265.97,342.04 264.74,343.25 265.03,344.95 263.5,344.15 261.97,344.95 262.26,343.25 261.03,342.04 262.74,341.8" fill="#111" stroke="#111" stroke-width="0.2" stroke-linejoin="round"/>
<polygon points="307.05,288.05 307.81,289.6 309.52,289.84 308.29,291.05 308.58,292.75 307.05,291.95 305.52,292.75 305.81,291.05 304.58,289.84 306.29,289.6" fill="#111" stroke="#111" stroke-width="0.2" stroke-linejoin="round"/>
<polygon points="312.65,288.05 313.41,289.6 315.12,289.84 313.89,291.05 314.18,292.75 312.65,291.95 311.12,292.75 311.41,291.05 310.18,289.84 311.89,289.6" fill="#111" stroke="#111" stroke-width="0.2" stroke-linejoin="round"/>
<polygon points="318.25,288.05 319.01,289.6 320.72,289.84 319.49,291.05 319.78,292.75 318.25,291.95 316.72,292.75 317.01,291.05 315.78,289.84 317.49,289.6" fill="#111" stroke="#111" stroke-width="0.2" stroke-linejoin="round"/>
<polygon points="330.25,337.45 331.01,339 332.72,339.24 331.49,340.45 331.78,342.15 330.25,341.35 328.72,342.15 329.01,340.45 327.78,339.24 329.49,339" fill="#111" stroke="#111" stroke-width="0.2" stroke-linejoin="round"/>
<polygon points="335.85,337.45 336.61,339 338.32,339.24 337.09,340.45 337.38,342.15 335.85,341.35 334.32,342.15 334.61,340.45 333.38,339.24 335.09,339" fill="#111" stroke="#111" stroke-width="0.2" stroke-linejoin="round"/>
<polygon points="341.45,337.45 342.21,339 343.92,339.24 342.69,340.45 342.98,342.15 341.45,341.35 339.92,342.15 340.21,340.45 338.98,339.24 340.69,339" fill="#111" stroke="#111" stroke-width="0.2" stroke-linejoin="round"/>
<line x1="236.5" y1="372.2" x2="236.5" y2="375.2" stroke="#111" stroke-width="1"/>
<line x1="259.5" y1="372.2" x2="259.5" y2="375.2" stroke="#111" stroke-width="1"/>
<line x1="283.5" y1="372.2" x2="283.5" y2="375.2" stroke="#111" stroke-width="1"/>
<line x1="307.5" y1="372.2" x2="307.5" y2="375.2" stroke="#111" stroke-width="1"/>
<line x1="332.5" y1="372.2" x2="332.5" y2="375.2" stroke="#111" stroke-width="1"/>
<text x="227.11" y="382.4" font-size="6.6" textLength="13.46" lengthAdjust="spacingAndGlyphs">Non</text>
<text x="225.34" y="391" font-size="6.6" textLength="20.81" lengthAdjust="spacingAndGlyphs">GVHD</text>
<text x="248.94" y="382.4" font-size="6.6" textLength="20.81" lengthAdjust="spacingAndGlyphs">GVHD</text>
<text x="299.73" y="382.4" font-size="6.6" textLength="13.13" lengthAdjust="spacingAndGlyphs">Non</text>
<text x="297.94" y="391" font-size="6.6" textLength="20.81" lengthAdjust="spacingAndGlyphs">GVHD</text>
<text x="321.85" y="382.4" font-size="6.6" textLength="20.19" lengthAdjust="spacingAndGlyphs">GVHD</text>
<line x1="225.5" y1="395.5" x2="272" y2="395.5" stroke="#111" stroke-width="1.4"/>
<line x1="297.5" y1="395.5" x2="344.5" y2="395.5" stroke="#111" stroke-width="1.4"/>
<text x="225.3" y="406.4" font-size="8.6" style="stroke-width:0.4px" textLength="25.68" lengthAdjust="spacingAndGlyphs">CD8α</text>
<text x="251.32" y="403.8" font-size="7.74" style="stroke-width:0.4px" textLength="4.46" lengthAdjust="spacingAndGlyphs">+</text>
<text x="256.19" y="406.4" font-size="8.6" style="stroke-width:0.4px" textLength="14.55" lengthAdjust="spacingAndGlyphs">DC</text>
<text x="295.51" y="406.4" font-size="8.6" style="stroke-width:0.4px" textLength="29.67" lengthAdjust="spacingAndGlyphs">CD11b</text>
<text x="325.49" y="403.8" font-size="7.74" style="stroke-width:0.4px" textLength="4.82" lengthAdjust="spacingAndGlyphs">+</text>
<text x="330.61" y="406.4" font-size="8.6" style="stroke-width:0.4px" textLength="14.22" lengthAdjust="spacingAndGlyphs">DC</text>
<text x="177.54" y="285.5" font-size="11" font-weight="bold" textLength="9.55" lengthAdjust="spacingAndGlyphs">H</text>
<text x="199.6" y="349.01" font-size="10.2" textLength="45.97" lengthAdjust="spacingAndGlyphs" transform="rotate(-90 199.6 349.01)">MFI CD86</text>
<rect x="233.05" y="290.75" width="11.8" height="4.3" fill="#fff" stroke="#111" stroke-width="1.1"/>
<text x="246.34" y="295.7" font-size="7.6" font-weight="bold" textLength="35.98" lengthAdjust="spacingAndGlyphs">Untreated</text>
<rect x="232.5" y="301" width="12.9" height="5.3" fill="#000"/>
<text x="246.48" y="306.4" font-size="7.6" font-weight="bold" textLength="16.91" lengthAdjust="spacingAndGlyphs">CpG</text>
<line x1="398.5" y1="285.9" x2="398.5" y2="374.8" stroke="#111" stroke-width="1"/>
<line x1="395.1" y1="286.5" x2="521" y2="286.5" stroke="#111" stroke-width="1"/>
<line x1="398.1" y1="374.5" x2="521" y2="374.5" stroke="#111" stroke-width="1"/>
<line x1="395.1" y1="374.5" x2="398.1" y2="374.5" stroke="#111" stroke-width="1"/>
<text x="390.69" y="377.2" font-size="7">0</text>
<line x1="395.1" y1="352.5" x2="398.1" y2="352.5" stroke="#111" stroke-width="1"/>
<text x="382.93" y="355.22" font-size="7">200</text>
<line x1="395.1" y1="330.5" x2="398.1" y2="330.5" stroke="#111" stroke-width="1"/>
<text x="382.93" y="333.25" font-size="7">400</text>
<line x1="395.1" y1="308.5" x2="398.1" y2="308.5" stroke="#111" stroke-width="1"/>
<text x="382.93" y="311.27" font-size="7">600</text>
<line x1="395.1" y1="286.5" x2="398.1" y2="286.5" stroke="#111" stroke-width="1"/>
<text x="382.93" y="289.3" font-size="7">800</text>
<rect x="402.5" y="362.5" width="7" height="12" fill="#fff" stroke="#222" stroke-width="1"/>
<line x1="403.1" y1="374.5" x2="409.2" y2="374.5" stroke="#d8d8d8" stroke-width="1"/>
<rect x="410.2" y="338.1" width="8.9" height="36.7" fill="#000"/>
<line x1="414.5" y1="337.3" x2="414.5" y2="338.1" stroke="#111" stroke-width="1"/>
<line x1="412.34" y1="337.5" x2="416.96" y2="337.5" stroke="#111" stroke-width="1"/>
<rect x="426.5" y="358.5" width="7" height="16" fill="#fff" stroke="#222" stroke-width="1"/>
<line x1="427.3" y1="374.5" x2="433.4" y2="374.5" stroke="#d8d8d8" stroke-width="1"/>
<rect x="434.4" y="335.1" width="8.6" height="39.7" fill="#000"/>
<line x1="438.5" y1="332.4" x2="438.5" y2="335.1" stroke="#111" stroke-width="1"/>
<line x1="436.46" y1="332.5" x2="440.94" y2="332.5" stroke="#111" stroke-width="1"/>
<rect x="474.5" y="360.5" width="8" height="14" fill="#fff" stroke="#222" stroke-width="1"/>
<line x1="475.3" y1="374.5" x2="481.9" y2="374.5" stroke="#d8d8d8" stroke-width="1"/>
<rect x="482.9" y="335.4" width="8.8" height="39.4" fill="#000"/>
<line x1="487.5" y1="334.8" x2="487.5" y2="335.4" stroke="#111" stroke-width="1"/>
<line x1="485.01" y1="334.5" x2="489.59" y2="334.5" stroke="#111" stroke-width="1"/>
<rect x="498.5" y="343.5" width="8" height="31" fill="#fff" stroke="#222" stroke-width="1"/>
<line x1="499.2" y1="374.5" x2="505.6" y2="374.5" stroke="#d8d8d8" stroke-width="1"/>
<line x1="502.5" y1="340.5" x2="502.5" y2="342.7" stroke="#111" stroke-width="1"/>
<line x1="500.22" y1="340.5" x2="504.58" y2="340.5" stroke="#111" stroke-width="1"/>
<rect x="506.6" y="301.8" width="9.1" height="73" fill="#000"/>
<line x1="511.5" y1="297.5" x2="511.5" y2="301.8" stroke="#111" stroke-width="1"/>
<line x1="508.78" y1="297.5" x2="513.52" y2="297.5" stroke="#111" stroke-width="1"/>
<polygon points="405.85,324.85 406.61,326.4 408.32,326.64 407.09,327.85 407.38,329.55 405.85,328.75 404.32,329.55 404.61,327.85 403.38,326.64 405.09,326.4" fill="#111" stroke="#111" stroke-width="0.2" stroke-linejoin="round"/>
<polygon points="411.45,324.85 412.21,326.4 413.92,326.64 412.69,327.85 412.98,329.55 411.45,328.75 409.92,329.55 410.21,327.85 408.98,326.64 410.69,326.4" fill="#111" stroke="#111" stroke-width="0.2" stroke-linejoin="round"/>
<polygon points="417.05,324.85 417.81,326.4 419.52,326.64 418.29,327.85 418.58,329.55 417.05,328.75 415.52,329.55 415.81,327.85 414.58,326.64 416.29,326.4" fill="#111" stroke="#111" stroke-width="0.2" stroke-linejoin="round"/>
<polygon points="422.65,324.85 423.41,326.4 425.12,326.64 423.89,327.85 424.18,329.55 422.65,328.75 421.12,329.55 421.41,327.85 420.18,326.64 421.89,326.4" fill="#111" stroke="#111" stroke-width="0.2" stroke-linejoin="round"/>
<polygon points="432.55,319.25 433.31,320.8 435.02,321.04 433.79,322.25 434.08,323.95 432.55,323.15 431.02,323.95 431.31,322.25 430.08,321.04 431.79,320.8" fill="#111" stroke="#111" stroke-width="0.2" stroke-linejoin="round"/>
<polygon points="438.15,319.25 438.91,320.8 440.62,321.04 439.39,322.25 439.68,323.95 438.15,323.15 436.62,323.95 436.91,322.25 435.68,321.04 437.39,320.8" fill="#111" stroke="#111" stroke-width="0.2" stroke-linejoin="round"/>
<polygon points="443.75,319.25 444.51,320.8 446.22,321.04 444.99,322.25 445.28,323.95 443.75,323.15 442.22,323.95 442.51,322.25 441.28,321.04 442.99,320.8" fill="#111" stroke="#111" stroke-width="0.2" stroke-linejoin="round"/>
<polygon points="479.15,324.85 479.91,326.4 481.62,326.64 480.39,327.85 480.68,329.55 479.15,328.75 477.62,329.55 477.91,327.85 476.68,326.64 478.39,326.4" fill="#111" stroke="#111" stroke-width="0.2" stroke-linejoin="round"/>
<polygon points="484.75,324.85 485.51,326.4 487.22,326.64 485.99,327.85 486.28,329.55 484.75,328.75 483.22,329.55 483.51,327.85 482.28,326.64 483.99,326.4" fill="#111" stroke="#111" stroke-width="0.2" stroke-linejoin="round"/>
<polygon points="490.35,324.85 491.11,326.4 492.82,326.64 491.59,327.85 491.88,329.55 490.35,328.75 488.82,329.55 489.11,327.85 487.88,326.64 489.59,326.4" fill="#111" stroke="#111" stroke-width="0.2" stroke-linejoin="round"/>
<polygon points="495.95,324.85 496.71,326.4 498.42,326.64 497.19,327.85 497.48,329.55 495.95,328.75 494.42,329.55 494.71,327.85 493.48,326.64 495.19,326.4" fill="#111" stroke="#111" stroke-width="0.2" stroke-linejoin="round"/>
<polygon points="505.25,289.15 506.01,290.7 507.72,290.94 506.49,292.15 506.78,293.85 505.25,293.05 503.72,293.85 504.01,292.15 502.78,290.94 504.49,290.7" fill="#111" stroke="#111" stroke-width="0.2" stroke-linejoin="round"/>
<polygon points="510.85,289.15 511.61,290.7 513.32,290.94 512.09,292.15 512.38,293.85 510.85,293.05 509.32,293.85 509.61,292.15 508.38,290.94 510.09,290.7" fill="#111" stroke="#111" stroke-width="0.2" stroke-linejoin="round"/>
<polygon points="516.45,289.15 517.21,290.7 518.92,290.94 517.69,292.15 517.98,293.85 516.45,293.05 514.92,293.85 515.21,292.15 513.98,290.94 515.69,290.7" fill="#111" stroke="#111" stroke-width="0.2" stroke-linejoin="round"/>
<line x1="410.5" y1="374.3" x2="410.5" y2="377.3" stroke="#111" stroke-width="1"/>
<line x1="434.5" y1="374.3" x2="434.5" y2="377.3" stroke="#111" stroke-width="1"/>
<line x1="460.5" y1="374.3" x2="460.5" y2="377.3" stroke="#111" stroke-width="1"/>
<line x1="482.5" y1="374.3" x2="482.5" y2="377.3" stroke="#111" stroke-width="1"/>
<line x1="506.5" y1="374.3" x2="506.5" y2="377.3" stroke="#111" stroke-width="1"/>
<text x="401.72" y="383.5" font-size="6.6" textLength="13.35" lengthAdjust="spacingAndGlyphs">Non</text>
<text x="399.94" y="392.2" font-size="6.6" textLength="20.81" lengthAdjust="spacingAndGlyphs">GVHD</text>
<text x="423.55" y="384.2" font-size="6.6" textLength="20.3" lengthAdjust="spacingAndGlyphs">GVHD</text>
<text x="475.55" y="383.5" font-size="6.6" textLength="12.7" lengthAdjust="spacingAndGlyphs">Non</text>
<text x="473.64" y="392.2" font-size="6.6" textLength="20.81" lengthAdjust="spacingAndGlyphs">GVHD</text>
<text x="496.34" y="384.2" font-size="6.6" textLength="20.92" lengthAdjust="spacingAndGlyphs">GVHD</text>
<line x1="399.8" y1="395.6" x2="445.8" y2="395.6" stroke="#111" stroke-width="1.4"/>
<line x1="471.9" y1="395.6" x2="517.9" y2="395.6" stroke="#111" stroke-width="1.4"/>
<text x="409.02" y="404.5" font-size="8.6" style="stroke-width:0.4px" textLength="24.37" lengthAdjust="spacingAndGlyphs">CD40</text>
<text x="483" y="404.4" font-size="8.6" style="stroke-width:0.4px" textLength="25.36" lengthAdjust="spacingAndGlyphs">CD86</text>
<text x="355.72" y="285.5" font-size="11" font-weight="bold" textLength="4.6" lengthAdjust="spacingAndGlyphs">I</text>
<text x="441.9" y="283.5" font-size="10.3" textLength="21.64" lengthAdjust="spacingAndGlyphs">pDC</text>
<text x="379" y="354.04" font-size="10.2" textLength="54.76" lengthAdjust="spacingAndGlyphs" transform="rotate(-90 379 354.04)">MFI CD40/86</text>
<rect x="408.05" y="294.25" width="11.5" height="3.8" fill="#fff" stroke="#111" stroke-width="1.1"/>
<text x="421.04" y="298.7" font-size="7.6" font-weight="bold" textLength="35.47" lengthAdjust="spacingAndGlyphs">Untreated</text>
<rect x="407.5" y="303.1" width="12.6" height="5.4" fill="#000"/>
<text x="421.16" y="308.6" font-size="7.6" font-weight="bold" textLength="17.85" lengthAdjust="spacingAndGlyphs">CpG</text>
<line x1="48.5" y1="428.4" x2="48.5" y2="516.9" stroke="#111" stroke-width="1"/>
<line x1="45.2" y1="428.5" x2="136.8" y2="428.5" stroke="#111" stroke-width="1"/>
<line x1="136.5" y1="428.4" x2="136.5" y2="516.9" stroke="#111" stroke-width="1"/>
<line x1="48.2" y1="516.5" x2="136.8" y2="516.5" stroke="#111" stroke-width="1"/>
<line x1="45.2" y1="516.5" x2="48.2" y2="516.5" stroke="#111" stroke-width="1"/>
<text x="42.4" y="519.3" font-size="7">0</text>
<line x1="45.2" y1="487.5" x2="48.2" y2="487.5" stroke="#111" stroke-width="1"/>
<text x="42.47" y="490.13" font-size="7">1</text>
<line x1="45.2" y1="458.5" x2="48.2" y2="458.5" stroke="#111" stroke-width="1"/>
<text x="42.47" y="460.97" font-size="7">2</text>
<line x1="45.2" y1="428.5" x2="48.2" y2="428.5" stroke="#111" stroke-width="1"/>
<text x="42.43" y="431.8" font-size="7">3</text>
<rect x="63.5" y="473.5" width="29" height="43" fill="#fff" stroke="#222" stroke-width="1"/>
<line x1="63.5" y1="516.5" x2="92" y2="516.5" stroke="#d8d8d8" stroke-width="1"/>
<line x1="77.5" y1="471.3" x2="77.5" y2="473" stroke="#111" stroke-width="1"/>
<line x1="69.82" y1="471.5" x2="85.68" y2="471.5" stroke="#111" stroke-width="1"/>
<rect x="93" y="508.8" width="29" height="8.1" fill="#000"/>
<line x1="107.5" y1="506.3" x2="107.5" y2="508.8" stroke="#111" stroke-width="1"/>
<line x1="99.96" y1="506.5" x2="115.04" y2="506.5" stroke="#111" stroke-width="1"/>
<polygon points="104.1,496.8 104.86,498.35 106.57,498.59 105.34,499.8 105.63,501.5 104.1,500.7 102.57,501.5 102.86,499.8 101.63,498.59 103.34,498.35" fill="#111" stroke="#111" stroke-width="0.2" stroke-linejoin="round"/>
<polygon points="109.7,496.8 110.46,498.35 112.17,498.59 110.94,499.8 111.23,501.5 109.7,500.7 108.17,501.5 108.46,499.8 107.23,498.59 108.94,498.35" fill="#111" stroke="#111" stroke-width="0.2" stroke-linejoin="round"/>
<rect x="52.55" y="434.15" width="12.9" height="3.5" fill="#fff" stroke="#111" stroke-width="1.1"/>
<text x="66.53" y="438.3" font-size="7.6" font-weight="bold" textLength="37.37" lengthAdjust="spacingAndGlyphs">Non-GVHD</text>
<rect x="52" y="442.6" width="14" height="4.6" fill="#000"/>
<text x="66.53" y="447.3" font-size="7.6" font-weight="bold" textLength="65.06" lengthAdjust="spacingAndGlyphs">Non-GVHD no DCs</text>
<text x="1.21" y="428.8" font-size="11" font-weight="bold" textLength="6.91" lengthAdjust="spacingAndGlyphs">J</text>
<text x="23.3" y="513.14" font-size="10" textLength="76.48" lengthAdjust="spacingAndGlyphs" transform="rotate(-90 23.3 513.14)">% MCMV-specific</text>
<text x="34.7" y="502.7" font-size="10" textLength="20.11" lengthAdjust="spacingAndGlyphs" transform="rotate(-90 34.7 502.7)">CD8</text>
<text x="32.1" y="482.59" font-size="8.3" textLength="4.87" lengthAdjust="spacingAndGlyphs" transform="rotate(-90 32.1 482.59)">+</text>
<text x="34.7" y="477.72" font-size="10" textLength="31.66" lengthAdjust="spacingAndGlyphs" transform="rotate(-90 34.7 477.72)"> T cells</text>
<line x1="199.5" y1="428.3" x2="199.5" y2="516.8" stroke="#111" stroke-width="1"/>
<line x1="196" y1="428.5" x2="287.5" y2="428.5" stroke="#111" stroke-width="1"/>
<line x1="287.5" y1="428.3" x2="287.5" y2="516.8" stroke="#111" stroke-width="1"/>
<line x1="199" y1="516.5" x2="287.5" y2="516.5" stroke="#111" stroke-width="1"/>
<line x1="196" y1="516.5" x2="199" y2="516.5" stroke="#111" stroke-width="1"/>
<text x="193.2" y="519.2" font-size="7">0</text>
<line x1="196" y1="494.5" x2="199" y2="494.5" stroke="#111" stroke-width="1"/>
<text x="193.27" y="497.32" font-size="7">1</text>
<line x1="196" y1="472.5" x2="199" y2="472.5" stroke="#111" stroke-width="1"/>
<text x="193.27" y="475.45" font-size="7">2</text>
<line x1="196" y1="450.5" x2="199" y2="450.5" stroke="#111" stroke-width="1"/>
<text x="193.23" y="453.57" font-size="7">3</text>
<line x1="196" y1="428.5" x2="199" y2="428.5" stroke="#111" stroke-width="1"/>
<text x="193.12" y="431.7" font-size="7">4</text>
<rect x="214.5" y="479.5" width="29" height="37" fill="#fff" stroke="#222" stroke-width="1"/>
<line x1="215.25" y1="516.5" x2="242.75" y2="516.5" stroke="#d8d8d8" stroke-width="1"/>
<line x1="229.5" y1="473.6" x2="229.5" y2="479.2" stroke="#111" stroke-width="1"/>
<line x1="221.33" y1="473.5" x2="236.67" y2="473.5" stroke="#111" stroke-width="1"/>
<rect x="243.75" y="512.1" width="29.5" height="4.7" fill="#000"/>
<line x1="258.5" y1="510.8" x2="258.5" y2="512.1" stroke="#111" stroke-width="1"/>
<line x1="250.83" y1="510.5" x2="266.17" y2="510.5" stroke="#111" stroke-width="1"/>
<polygon points="255.95,499.27 256.71,500.82 258.42,501.07 257.19,502.28 257.48,503.98 255.95,503.17 254.42,503.98 254.71,502.28 253.48,501.07 255.19,500.82" fill="#111" stroke="#111" stroke-width="0.2" stroke-linejoin="round"/>
<polygon points="261.55,499.27 262.31,500.82 264.02,501.07 262.79,502.28 263.08,503.98 261.55,503.17 260.02,503.98 260.31,502.28 259.08,501.07 260.79,500.82" fill="#111" stroke="#111" stroke-width="0.2" stroke-linejoin="round"/>
<rect x="203.55" y="434.35" width="12.5" height="3.3" fill="#fff" stroke="#111" stroke-width="1.1"/>
<text x="217.72" y="438.3" font-size="7.6" font-weight="bold" textLength="38.08" lengthAdjust="spacingAndGlyphs">Non-GVHD</text>
<rect x="203" y="442.7" width="13.6" height="4.5" fill="#000"/>
<text x="217.73" y="447.3" font-size="7.6" font-weight="bold" textLength="64.96" lengthAdjust="spacingAndGlyphs">Non-GVHD no DCs</text>
<text x="172.9" y="508.82" font-size="10" textLength="68.56" lengthAdjust="spacingAndGlyphs" transform="rotate(-90 172.9 508.82)">MCMV-specific</text>
<text x="183.9" y="518.61" font-size="10" textLength="20.27" lengthAdjust="spacingAndGlyphs" transform="rotate(-90 183.9 518.61)">CD8</text>
<text x="181.7" y="498.33" font-size="8.3" textLength="4.91" lengthAdjust="spacingAndGlyphs" transform="rotate(-90 181.7 498.33)">+</text>
<text x="183.9" y="493.42" font-size="10" textLength="54.44" lengthAdjust="spacingAndGlyphs" transform="rotate(-90 183.9 493.42)"> T cells (x10</text>
<text x="181.3" y="438.98" font-size="8.6" textLength="4.85" lengthAdjust="spacingAndGlyphs" transform="rotate(-90 181.3 438.98)">5</text>
<text x="183.9" y="434.14" font-size="10" textLength="3.37" lengthAdjust="spacingAndGlyphs" transform="rotate(-90 183.9 434.14)">)</text>
</svg>
</body></html>
